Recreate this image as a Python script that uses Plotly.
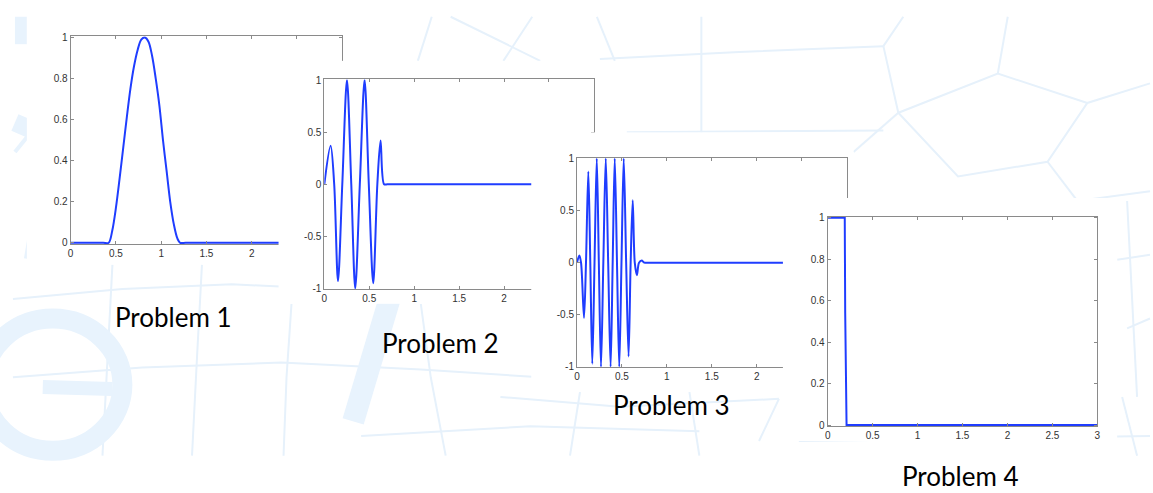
import plotly.graph_objects as go

W, H = 1153, 493

# ---------------- data ----------------
p1_x = [0, 0.2, 0.36, 0.42, 0.46, 0.50, 0.54, 0.58, 0.62, 0.66, 0.70, 0.74, 0.78, 0.82,
        0.86, 0.90, 0.94, 0.98, 1.02, 1.06, 1.10, 1.14, 1.18, 1.21, 1.27, 1.5, 3.0]
p1_y = [0, 0, 0, 0, 0.06, 0.17, 0.31, 0.46, 0.61, 0.75, 0.86, 0.94, 0.99, 1.0,
        0.98, 0.91, 0.80, 0.67, 0.50, 0.35, 0.20, 0.09, 0.02, 0, 0, 0, 0]

p2_x = [0, 0.07, 0.11, 0.152, 0.20, 0.252, 0.30, 0.344, 0.395, 0.448, 0.495,
        0.544, 0.59, 0.626, 0.665, 0.70, 0.75, 0.9, 3.0]
p2_y = [0, 0.37, 0, -0.93, 0, 1.0, 0, -1.0, 0, 1.0, 0, -0.95, 0, 0.42, 0, 0, 0, 0, 0]

p3_x = [0, 0.026, 0.045, 0.078, 0.10, 0.126, 0.148, 0.17, 0.195, 0.22, 0.243,
        0.267, 0.293, 0.32, 0.347, 0.374, 0.397, 0.42, 0.445, 0.47, 0.495,
        0.52, 0.547, 0.574, 0.597, 0.62, 0.643, 0.667, 0.69, 0.72, 0.75, 0.80,
        0.9, 3.0]
p3_y = [0, 0.07, 0, -0.53, 0, 0.875, 0, -0.97, 0, 1.0, 0, -1.0, 0, 1.0, 0,
        -1.0, 0, 1.0, 0, -1.0, 0, 1.0, 0, -0.9, 0, 0.6, 0, -0.12, 0, 0.02, 0, 0,
        0, 0]

p4_x = [0, 0.19, 0.195, 0.21, 3.0]
p4_y = [1, 1, 0.54, 0, 0]

x_tickvals = [0, 0.5, 1, 1.5, 2, 2.5, 3]
x_ticktext = ["0", "0.5", "1", "1.5", "2", "2.5", "3"]
y01_tickvals = [0, 0.2, 0.4, 0.6, 0.8, 1]
y01_ticktext = ["0", "0.2", "0.4", "0.6", "0.8", "1"]
ypm_tickvals = [-1, -0.5, 0, 0.5, 1]
ypm_ticktext = ["-1", "-0.5", "0", "0.5", "1"]

labels = ["Problem 1", "Problem 2", "Problem 3", "Problem 4"]

# ---------------- layout helpers ----------------
def dx(a, b):
    return [a / W, b / W]

def dy(top, bottom):
    return [1 - bottom / H, 1 - top / H]

def px(x):
    return x / W

def py(y):
    return 1 - y / H

LINE = "#1f3dff"
AX = "#8a8a8a"
TICKFONT = dict(family="Liberation Sans, Arial, sans-serif", size=10, color="#333333")

hidden = dict(showline=False, showgrid=False, zeroline=False,
              showticklabels=False, ticks="", range=[0, 1], fixedrange=True)

def shown(tv, tt, rng):
    return dict(showline=True, linecolor=AX, linewidth=1, mirror="ticks",
                ticks="inside", ticklen=3, tickcolor=AX, tickwidth=1,
                showgrid=False, zeroline=False, tickvals=tv, ticktext=tt,
                range=rng, tickfont=TICKFONT, fixedrange=True)

# order: dummy, occ1, plot1, occ2, plot2, occ3, plot3, occ4, plot4
subplots = [
    ("occ", [0, W], [0, H]),
    ("occ", [24, 345], [12, 265]),
    ("p1", [68, 341], [32, 244]),
    ("occ", [277, 605], [57, 305]),
    ("p2", [323, 594], [76, 290]),
    ("occ", [531, 855], [130, 395]),
    ("p3", [577, 848], [156, 370]),
    ("occ", [784, 1120], [197, 445]),
    ("p4", [829, 1100], [216, 430]),
]

series = {
    "p1": (p1_x, p1_y, "spline", y01_tickvals, y01_ticktext, [-0.006, 1.006]),
    "p2": (p2_x, p2_y, "spline", ypm_tickvals, ypm_ticktext, [-1.006, 1.006]),
    "p3": (p3_x, p3_y, "spline", ypm_tickvals, ypm_ticktext, [-1.006, 1.006]),
    "p4": (p4_x, p4_y, "linear", y01_tickvals, y01_ticktext, [-0.006, 1.006]),
}

fig = go.Figure()
layout = dict(width=W, height=H, margin=dict(l=0, r=0, t=0, b=0),
              paper_bgcolor="white", plot_bgcolor="white", showlegend=False)

for i, (kind, xs, ys) in enumerate(subplots, start=1):
    xa = "xaxis" if i == 1 else f"xaxis{i}"
    ya = "yaxis" if i == 1 else f"yaxis{i}"
    xr = "x" if i == 1 else f"x{i}"
    yr = "y" if i == 1 else f"y{i}"
    if kind == "occ":
        layout[xa] = dict(domain=dx(*xs), anchor=yr, **hidden)
        layout[ya] = dict(domain=dy(*ys), anchor=xr, **hidden)
        fig.add_trace(go.Scatter(x=[], y=[], xaxis=xr, yaxis=yr,
                                 hoverinfo="skip", showlegend=False))
    else:
        sx, sy, shape, ytv, ytt, yrng = series[kind]
        layout[xa] = dict(domain=dx(*xs), anchor=yr,
                          **shown(x_tickvals, x_ticktext, [0, 3]))
        layout[ya] = dict(domain=dy(*ys), anchor=xr, **shown(ytv, ytt, yrng))
        fig.add_trace(go.Scatter(x=sx, y=sy, xaxis=xr, yaxis=yr, mode="lines",
                                 line=dict(color=LINE, width=2, shape=shape,
                                           smoothing=0.9),
                                 showlegend=False))

# ---------------- faint background pattern ----------------
PAT = "#e6f1fb"
LET = "#e8f3fd"
shapes = []

def seg(pts, color=PAT, width=2):
    d = "M " + " L ".join(f"{px(x):.5f},{py(y):.5f}" for x, y in pts)
    shapes.append(dict(type="path", path=d, xref="paper", yref="paper",
                       line=dict(color=color, width=width), layer="below"))

pattern = [
    [(417, 57), (431, 12)], [(450, 12), (540, 57)], [(532, 12), (503, 57)],
    [(597, 12), (615, 57)], [(600, 55), (740, 48), (885, 42)],
    [(702, 12), (702, 135)], [(627, 130), (885, 128)],
    [(885, 42), (905, 12)], [(885, 42), (900, 110), (1000, 70), (1090, 100)],
    [(900, 110), (960, 175), (1050, 160), (1090, 100), (1153, 80)],
    [(1000, 70), (1010, 12)], [(1050, 160), (1080, 200), (1153, 190)],
    [(855, 150), (900, 110)], [(1120, 260), (1153, 255)],
    [(1130, 330), (1153, 320)], [(1125, 400), (1140, 460)],
    [(1130, 200), (1135, 300), (1140, 400)],
    [(10, 300), (120, 290), (230, 285), (330, 290)],
    [(10, 380), (140, 370), (280, 365), (420, 372), (540, 380)],
    [(200, 265), (195, 360), (190, 460)], [(290, 305), (285, 380), (282, 460)],
    [(110, 265), (100, 460)], [(420, 305), (430, 380), (445, 460)],
    [(580, 395), (570, 460)], [(500, 400), (620, 410), (780, 402)],
    [(690, 395), (700, 460)], [(360, 440), (530, 430), (700, 435)],
    [(760, 445), (780, 402)], [(855, 200), (880, 230)],
    [(800, 445), (1153, 440)],
]
for p in pattern:
    seg(p)

# letter-like large shapes on the left
shapes.append(dict(type="rect", xref="paper", yref="paper",
                   x0=px(12), x1=px(24), y0=py(40), y1=py(12),
                   fillcolor=LET, line=dict(width=0), layer="below"))
seg([(24, 135), (12, 150)], LET, 4)
seg([(12, 120), (35, 130), (40, 200), (30, 260)], LET, 18)
seg([(398, 268), (352, 425)], LET, 22)
shapes.append(dict(type="circle", xref="paper", yref="paper",
                   x0=px(-20), x1=px(120), y0=py(455), y1=py(320),
                   line=dict(color=LET, width=20), layer="below"))
seg([(40, 390), (110, 392)], LET, 14)

layout["shapes"] = shapes

# ---------------- captions ----------------
cap_pos = [(171, 318), (440, 345), (672, 408), (963, 481)]
layout["annotations"] = [
    dict(text=t, x=px(x), y=py(y), xref="paper", yref="paper",
         xanchor="center", yanchor="middle", showarrow=False,
         font=dict(family="Lato, Open Sans, sans-serif", size=26, color="black"))
    for t, (x, y) in zip(labels, cap_pos)
]

fig.update_layout(**layout)
fig.write_html("out.html",
               config={"displayModeBar": False},
               post_script="document.body.style.margin='0';document.body.style.overflow='hidden';")
